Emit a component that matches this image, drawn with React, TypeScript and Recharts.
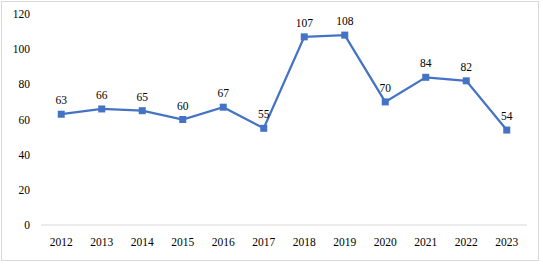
import React from "react";
import { LineChart, Line, XAxis, YAxis, LabelList } from "recharts";

const years = ["2012", "2013", "2014", "2015", "2016", "2017", "2018", "2019", "2020", "2021", "2022", "2023"];
const values = [63, 66, 65, 60, 67, 55, 107, 108, 70, 84, 82, 54];
const yTicks = [0, 20, 40, 60, 80, 100, 120];

const data = years.map((year, i) => ({ year, value: values[i] }));

const FONT = "Liberation Serif";
const BLUE = "#4472C4";

const SquareDot = (props: any) => {
  const { cx, cy, index } = props;
  if (cx == null || cy == null) return null;
  return <rect key={`d-${index}`} x={cx - 3.5} y={cy - 3.5} width={7} height={7} fill={BLUE} />;
};

export default function App() {
  return (
    <div style={{ position: "absolute", left: 0, top: 0, width: 543, height: 264, background: "#fff", fontFamily: FONT }}>
      <div
        style={{
          position: "absolute",
          left: 1,
          top: 1,
          width: 538,
          height: 260,
          border: "1px solid #d9d9d9",
          boxSizing: "border-box",
        }}
      />
      <div style={{ position: "absolute", left: 0, top: 0 }}>
        <LineChart
          width={543}
          height={264}
          data={data}
          margin={{ top: 14, right: 16, left: 0, bottom: 0 }}
          style={{ fontFamily: FONT }}
        >
          <XAxis
            dataKey="year"
            scale="band"
            height={39}
            tickLine={false}
            axisLine={{ stroke: "#d9d9d9", strokeWidth: 1 }}
            tickMargin={7}
            interval={0}
            tick={{ fill: "#000", fontSize: 11.5, fontFamily: FONT }}
          />
          <YAxis
            width={41}
            domain={[0, 120]}
            ticks={yTicks}
            axisLine={false}
            tickLine={false}
            tickMargin={5}
            tick={{ fill: "#000", fontSize: 11.5, fontFamily: FONT }}
          />
          <Line
            type="linear"
            dataKey="value"
            stroke={BLUE}
            strokeWidth={2.25}
            dot={<SquareDot />}
            activeDot={false}
            isAnimationActive={false}
          >
            <LabelList
              dataKey="value"
              position="top"
              offset={10}
              fill="#000"
              fontSize={11.5}
              fontFamily={FONT}
            />
          </Line>
        </LineChart>
      </div>
    </div>
  );
}
